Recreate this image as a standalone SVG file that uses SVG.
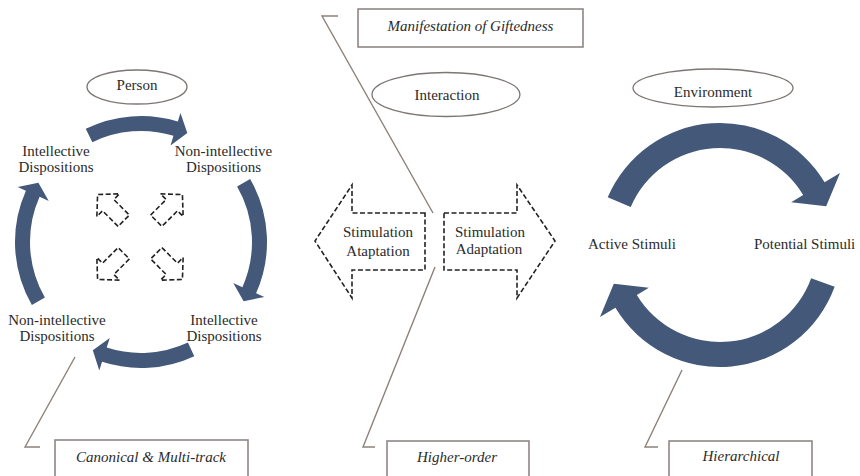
<svg xmlns="http://www.w3.org/2000/svg" width="860" height="476" viewBox="0 0 860 476">
<style>
  .t { font-family: "Liberation Serif", "Times New Roman", serif; font-size: 15px; fill: #2b2b2b; text-anchor: middle; }
  .ti { font-family: "Liberation Serif", "Times New Roman", serif; font-size: 15px; font-style: italic; fill: #2b2b2b; text-anchor: middle; }
  .ell { fill: #ffffff; stroke: #7d7673; stroke-width: 1.3; }
  .box { fill: #ffffff; stroke: #8e8885; stroke-width: 1.6; }
  .cyc { fill: #44587a; stroke: none; }
  .dash { fill: #ffffff; stroke: #222222; stroke-width: 1.6; stroke-dasharray: 5 2.5; }
  .lead { fill: none; stroke: #8c817b; stroke-width: 1.4; }
</style>
<defs>
  <polygon id="mini" points="23,-8 45,-8 45,-16 60,0 45,16 45,8 23,8"/>
</defs>
<rect width="860" height="476" fill="#ffffff"/>

<g id="connectors">
  <polyline class="lead" points="338,16 322,16 433,213"/>
  <polyline class="lead" points="435,267 363,447 375,447"/>
  <polyline class="lead" points="75,357 25,447 40,447"/>
  <polyline class="lead" points="682,370 645,447 658,447"/>
</g>

<g id="manifestation">
  <rect class="box" x="358" y="9" width="225" height="38"/>
  <text class="ti" x="470.5" y="31">Manifestation of Giftedness</text>
</g>

<g id="person">
  <ellipse class="ell" cx="137" cy="87" rx="50" ry="17"/>
  <text class="t" x="137" y="90">Person</text>
</g>

<g id="interaction">
  <ellipse class="ell" cx="446" cy="94.5" rx="74" ry="22"/>
  <text class="t" x="447" y="100">Interaction</text>
</g>

<g id="environment">
  <ellipse class="ell" cx="713" cy="88" rx="80" ry="19"/>
  <text class="t" x="713" y="97">Environment</text>
</g>

<g id="person-cycle">
  <path class="cyc" d="M85.76,128.75 A126,126 0 0 1 177.84,121.51 L180.47,112.90 L187.30,132.92 L170.53,145.41 L173.46,135.85 A111,111 0 0 0 92.34,142.23 Z"/>
  <path class="cyc" d="M250.12,179 A126,126 0 0 1 256.10,293.25 L264.32,296.90 L243.62,301.25 L233.26,283.08 L242.40,287.14 A111,111 0 0 0 237.13,186.5 Z"/>
  <path class="cyc" d="M194.25,356.19 A126,126 0 0 1 102.07,361.84 L99.28,370.40 L92.81,350.25 L109.79,338.06 L106.70,347.57 A111,111 0 0 0 187.91,342.60 Z"/>
  <path class="cyc" d="M31.88,305 A126,126 0 0 1 25.90,190.75 L17.68,187.10 L38.38,182.75 L48.74,200.92 L39.60,196.86 A111,111 0 0 0 44.87,297.5 Z"/>
</g>

<g id="intellective-top">
  <text class="t" x="56" y="156">Intellective</text>
  <text class="t" x="56" y="171.5">Dispositions</text>
</g>
<g id="nonintellective-top">
  <text class="t" x="223.5" y="156">Non-intellective</text>
  <text class="t" x="223.5" y="171.5">Dispositions</text>
</g>
<g id="intellective-bottom">
  <text class="t" x="224" y="325">Intellective</text>
  <text class="t" x="224" y="341">Dispositions</text>
</g>
<g id="nonintellective-bottom">
  <text class="t" x="57" y="325">Non-intellective</text>
  <text class="t" x="57" y="341">Dispositions</text>
</g>

<g id="mini-arrows">
  <use href="#mini" class="dash" transform="translate(140,237) rotate(-135)"/>
  <use href="#mini" class="dash" transform="translate(140,237) rotate(-45)"/>
  <use href="#mini" class="dash" transform="translate(140,237) rotate(135)"/>
  <use href="#mini" class="dash" transform="translate(140,237) rotate(45)"/>
</g>

<g id="stimulation-left">
  <polygon class="dash" points="425,213 352,213 352,185 315,241 352,298 352,270 425,270"/>
  <text class="t" x="378" y="237">Stimulation</text>
  <text class="t" x="378" y="256">Ataptation</text>
</g>

<g id="stimulation-right">
  <polygon class="dash" points="444,213 517,213 517,185 555,241 517,298 517,270 444,270"/>
  <text class="t" x="490" y="237">Stimulation</text>
  <text class="t" x="489" y="254">Adaptation</text>
</g>

<g id="environment-cycle">
  <path class="cyc" d="M607.70,197.33 A122,122 0 0 1 824.58,182.17 L840.01,172.90 L826.19,206.35 L791.15,202.25 L803.15,195.04 A97,97 0 0 0 630.71,207.10 Z"/>
  <path class="cyc" d="M834.64,286.73 A122,122 0 0 1 615.42,307.83 L599.99,317.10 L613.81,283.65 L648.85,287.75 L636.85,294.96 A97,97 0 0 0 811.15,278.18 Z"/>
</g>

<g id="active-stimuli">
  <text class="t" x="632" y="249">Active Stimuli</text>
</g>
<g id="potential-stimuli">
  <text class="t" x="754" y="249" style="text-anchor:start">Potential Stimuli</text>
</g>

<g id="canonical">
  <rect class="box" x="55" y="440" width="193" height="44"/>
  <text class="ti" x="151" y="462">Canonical &amp; Multi-track</text>
</g>
<g id="higher-order">
  <rect class="box" x="387" y="441" width="142" height="44"/>
  <text class="ti" x="457" y="462">Higher-order</text>
</g>
<g id="hierarchical">
  <rect class="box" x="669" y="441" width="143" height="44"/>
  <text class="ti" x="741" y="461">Hierarchical</text>
</g>
</svg>
